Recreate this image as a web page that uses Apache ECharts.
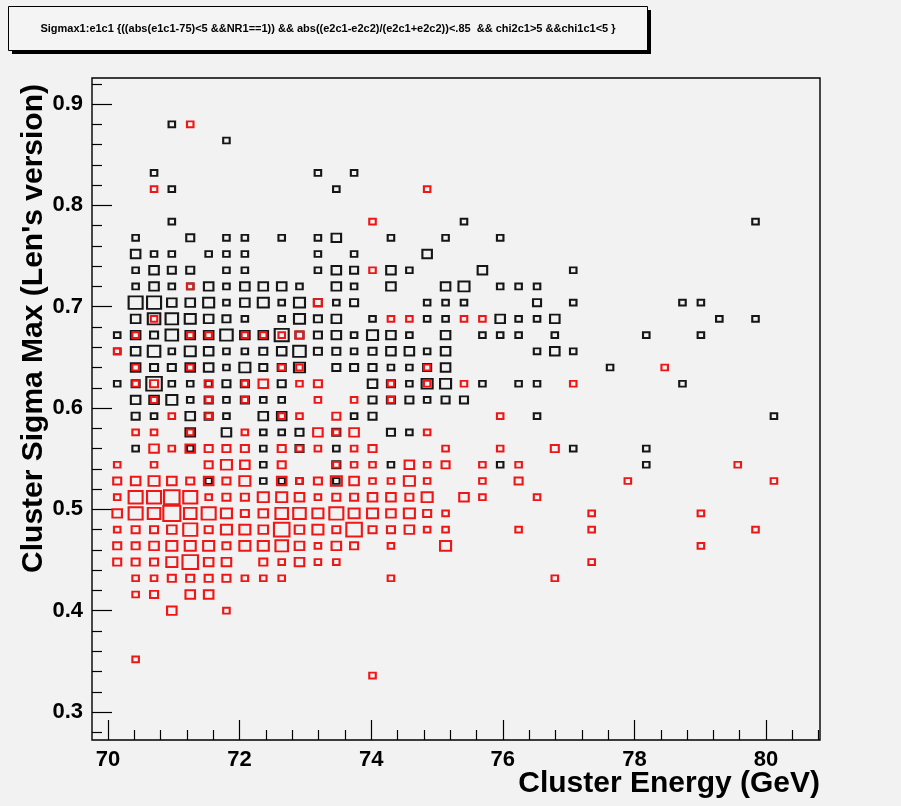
<!DOCTYPE html>
<html>
<head>
<meta charset="utf-8">
<script src="https://cdn.jsdelivr.net/npm/echarts@6/dist/echarts.min.js"></script>
<style>
  html, body { margin: 0; padding: 0; background: #f2f2f2; }
  #chart { width: 901px; height: 806px; }
</style>
</head>
<body>
<div id="chart"></div>
<script>
// Bin centres of the 2D histogram (Cluster Energy in GeV, Sigma Max)
const energyCenters = [70.14, 70.42, 70.70, 70.97, 71.25, 71.53, 71.80, 72.08, 72.36, 72.64,
  72.91, 73.19, 73.47, 73.74, 74.02, 74.30, 74.58, 74.85, 75.13, 75.41,
  75.69, 75.96, 76.24, 76.52, 76.79, 77.07, 77.35, 77.63, 77.90, 78.18,
  78.46, 78.73, 79.01, 79.29, 79.57, 79.84, 80.12];
const sigmaCenters = [0.880, 0.864, 0.848, 0.832, 0.816, 0.800, 0.784, 0.768, 0.752, 0.736,
  0.720, 0.704, 0.688, 0.672, 0.656, 0.640, 0.624, 0.608, 0.592, 0.576,
  0.560, 0.544, 0.528, 0.512, 0.496, 0.480, 0.464, 0.448, 0.432, 0.416,
  0.400, 0.384, 0.368, 0.352, 0.336];

// [energy bin, sigma bin, entries] -- black histogram
const blackCells = [
  [3,0,1],[6,1,1],[2,3,1],[11,3,1],[13,3,1],[3,4,1],[12,4,1],[3,6,1],[19,6,1],[35,6,1],
  [1,7,1],[4,7,2],[6,7,1],[7,7,1],[9,7,1],[11,7,1],[12,7,3],[15,7,1],[18,7,1],[21,7,1],
  [1,8,3],[2,8,1],[3,8,1],[5,8,1],[6,8,1],[7,8,1],[11,8,1],[13,8,1],[17,8,3],
  [1,9,1],[2,9,3],[3,9,2],[4,9,2],[6,9,1],[7,9,1],[11,9,1],[12,9,3],[13,9,2],[15,9,3],[16,9,1],[20,9,3],[25,9,1],
  [1,10,1],[2,10,3],[3,10,1],[4,10,1],[5,10,3],[6,10,1],[7,10,3],[8,10,3],[9,10,3],[10,10,1],[12,10,3],[13,10,1],[15,10,3],[18,10,3],[19,10,4],[21,10,1],[22,10,1],[23,10,1],
  [1,11,6],[2,11,6],[3,11,3],[4,11,3],[5,11,4],[6,11,1],[7,11,3],[8,11,4],[9,11,1],[10,11,4],[11,11,2],[12,11,1],[13,11,2],[17,11,1],[18,11,1],[19,11,1],[23,11,2],[25,11,1],[31,11,1],[32,11,1],
  [1,12,3],[2,12,5],[3,12,5],[4,12,4],[5,12,3],[6,12,2],[7,12,1],[9,12,1],[10,12,4],[11,12,2],[12,12,3],[14,12,1],[17,12,1],[18,12,1],[21,12,3],[22,12,1],[23,12,1],[24,12,3],[33,12,1],[35,12,1],
  [0,13,1],[1,13,3],[2,13,2],[3,13,5],[4,13,3],[5,13,3],[6,13,5],[7,13,3],[8,13,3],[9,13,6],[10,13,2],[11,13,2],[12,13,3],[13,13,1],[14,13,4],[15,13,3],[16,13,1],[18,13,3],[20,13,1],[21,13,1],[22,13,1],[24,13,1],[29,13,1],[32,13,1],
  [0,14,1],[1,14,3],[2,14,5],[3,14,1],[4,14,4],[5,14,3],[6,14,1],[7,14,1],[8,14,2],[9,14,3],[10,14,5],[11,14,2],[12,14,2],[13,14,1],[14,14,2],[15,14,3],[16,14,3],[17,14,1],[18,14,3],[23,14,1],[24,14,3],[25,14,1],
  [1,15,3],[2,15,2],[3,15,2],[4,15,3],[5,15,3],[6,15,1],[7,15,4],[8,15,2],[9,15,2],[10,15,4],[12,15,2],[13,15,2],[14,15,2],[15,15,1],[16,15,1],[17,15,2],[18,15,3],[27,15,1],
  [0,16,1],[1,16,2],[2,16,7],[3,16,1],[4,16,1],[5,16,1],[6,16,2],[7,16,2],[9,16,2],[14,16,3],[15,16,2],[16,16,1],[17,16,4],[18,16,4],[20,16,1],[22,16,1],[23,16,1],[31,16,1],
  [1,17,3],[2,17,3],[3,17,4],[4,17,1],[5,17,2],[6,17,1],[7,17,2],[8,17,1],[9,17,1],[14,17,2],[15,17,2],[16,17,2],[17,17,1],[18,17,2],[19,17,2],
  [1,18,2],[2,18,1],[4,18,3],[5,18,2],[6,18,1],[8,18,3],[9,18,3],[13,18,1],[14,18,2],[23,18,1],[36,18,1],
  [4,19,3],[6,19,3],[8,19,1],[9,19,1],[10,19,2],[12,19,2],[15,19,2],[16,19,1],
  [1,20,1],[4,20,1],[8,20,1],[10,20,2],[12,20,1],[25,20,1],[29,20,1],
  [8,21,1],[12,21,2],[15,21,1],[21,21,1],[29,21,1],
  [5,22,1],[8,22,1],[9,22,1],[10,22,1],[12,22,1]
];

// [energy bin, sigma bin, entries] -- red histogram (drawn with "same")
const redCells = [
  [4,0,1],[2,4,1],[17,4,1],[14,6,1],[14,9,1],[4,10,1],[11,11,2],
  [2,12,1],[15,12,1],[16,12,1],[19,12,1],[20,12,1],
  [1,13,1],[4,13,1],[5,13,1],[7,13,1],[8,13,1],[9,13,1],[10,13,2],
  [0,14,1],
  [1,15,1],[4,15,1],[9,15,1],[10,15,1],[17,15,1],[30,15,1],
  [1,16,1],[2,16,2],[5,16,2],[7,16,1],[8,16,3],[10,16,1],[11,16,2],[15,16,1],[17,16,1],[19,16,1],[25,16,1],
  [2,17,1],[5,17,1],[7,17,1],[11,17,1],[13,17,1],[15,17,1],
  [3,18,1],[5,18,1],[9,18,1],[10,18,1],[12,18,2],[21,18,1],
  [1,19,1],[2,19,1],[4,19,1],[7,19,1],[11,19,3],[12,19,1],[13,19,3],[17,19,1],
  [2,20,3],[3,20,1],[4,20,3],[5,20,2],[6,20,2],[7,20,2],[9,20,2],[10,20,1],[11,20,1],[13,20,1],[14,20,2],[18,20,1],[21,20,1],[24,20,2],
  [0,21,1],[2,21,1],[5,21,2],[6,21,4],[7,21,3],[9,21,2],[12,21,1],[13,21,1],[14,21,1],[16,21,3],[17,21,1],[18,21,2],[20,21,1],[22,21,1],[34,21,1],
  [0,22,2],[1,22,3],[2,22,4],[3,22,3],[4,22,2],[5,22,3],[6,22,2],[7,22,4],[9,22,3],[10,22,1],[11,22,2],[12,22,4],[13,22,3],[14,22,1],[15,22,1],[16,22,4],[17,22,1],[20,22,1],[22,22,2],[28,22,1],[36,22,1],
  [0,23,1],[1,23,6],[2,23,6],[3,23,7],[4,23,6],[5,23,1],[6,23,2],[7,23,2],[8,23,4],[9,23,4],[10,23,3],[11,23,1],[12,23,2],[13,23,2],[14,23,3],[15,23,3],[16,23,2],[17,23,4],[19,23,3],[20,23,1],[23,23,1],
  [0,24,3],[1,24,6],[2,24,5],[3,24,8],[4,24,5],[5,24,6],[6,24,4],[7,24,2],[8,24,3],[9,24,5],[10,24,5],[11,24,4],[12,24,6],[13,24,4],[14,24,4],[15,24,3],[16,24,4],[17,24,2],[18,24,1],[26,24,1],[32,24,1],
  [0,25,1],[1,25,2],[2,25,2],[3,25,3],[4,25,6],[5,25,2],[6,25,4],[7,25,4],[8,25,3],[9,25,7],[10,25,3],[11,25,4],[12,25,2],[13,25,7],[14,25,2],[15,25,2],[16,25,3],[17,25,1],[18,25,1],[22,25,1],[26,25,1],[35,25,1],
  [0,26,2],[1,26,2],[2,26,3],[3,26,4],[4,26,4],[5,26,4],[6,26,2],[7,26,4],[8,26,4],[9,26,5],[10,26,3],[11,26,1],[12,26,3],[13,26,2],[15,26,1],[18,26,4],[32,26,1],
  [0,27,2],[1,27,2],[2,27,2],[3,27,4],[4,27,7],[5,27,3],[6,27,3],[8,27,2],[9,27,1],[10,27,3],[11,27,1],[12,27,1],[26,27,1],
  [1,28,1],[2,28,1],[3,28,2],[4,28,2],[5,28,2],[6,28,2],[7,28,1],[8,28,1],[9,28,1],[15,28,1],[24,28,1],
  [1,29,1],[2,29,2],[4,29,3],[5,29,3],
  [3,30,3],[6,30,1],
  [1,33,1],
  [14,34,1]
];

// Axis ticks and labels
const energyLabels = [70, 72, 74, 76, 78, 80];
const energyMinorTicks = [70.4, 70.8, 71.2, 71.6, 72.4, 72.8, 73.2, 73.6, 74.4, 74.8, 75.2, 75.6,
  76.4, 76.8, 77.2, 77.6, 78.4, 78.8, 79.2, 79.6, 80.4, 80.8];
const sigmaLabels = [0.3, 0.4, 0.5, 0.6, 0.7, 0.8, 0.9];
const sigmaMinorTicks = [0.28, 0.32, 0.34, 0.36, 0.38, 0.42, 0.44, 0.46, 0.48, 0.52, 0.54, 0.56, 0.58,
  0.62, 0.64, 0.66, 0.68, 0.72, 0.74, 0.76, 0.78, 0.82, 0.84, 0.86, 0.88, 0.92];

const titleText = 'Sigmax1:e1c1 {((abs(e1c1-75)<5 &&NR1==1)) && abs((e2c1-e2c2)/(e2c1+e2c2))<.85  && chi2c1>5 &&chi1c1<5 }';
const xTitle = 'Cluster Energy (GeV)';
const yTitle = "Cluster Sigma Max (Len's version)";

const X_MIN = 69.757, X_MAX = 80.82;
const Y_MIN = 0.2724, Y_MAX = 0.9257;

const FONT = '"Liberation Sans", Arial, Helvetica, sans-serif';
const STROKE = 2;

// box side grows with the number of entries in the cell
function boxSize(n) {
  const outer = 7 + 1.5 * n;
  const w = outer - STROKE;
  return [w, w * 0.89];
}

function toPoints(cells) {
  return cells.map(([i, j, n]) => [energyCenters[i], sigmaCenters[j], n]);
}

const chart = echarts.init(document.getElementById('chart'), null, { renderer: 'canvas' });

const axisCommon = {
  type: 'value',
  splitLine: { show: false },
  axisLine: { show: false },
};

chart.setOption({
  animation: false,
  backgroundColor: '#f2f2f2',
  grid: {
    left: 92, top: 78, width: 728, height: 662,
    show: true, borderColor: '#000', borderWidth: 1.4, backgroundColor: 'transparent'
  },
  xAxis: [
    Object.assign({}, axisCommon, {
      min: X_MIN, max: X_MAX,
      axisTick: { show: true, inside: true, length: 20, customValues: energyLabels, lineStyle: { color: '#000', width: 1.2 } },
      axisLabel: { show: true, customValues: energyLabels, margin: 9, color: '#000', fontSize: 22, fontWeight: 'bold', fontFamily: FONT }
    }),
    Object.assign({}, axisCommon, {
      min: X_MIN, max: X_MAX, position: 'bottom',
      axisTick: { show: true, inside: true, length: 10, customValues: energyMinorTicks, lineStyle: { color: '#000', width: 1.2 } },
      axisLabel: { show: false }
    })
  ],
  yAxis: [
    Object.assign({}, axisCommon, {
      min: Y_MIN, max: Y_MAX,
      axisTick: { show: true, inside: true, length: 20, customValues: sigmaLabels, lineStyle: { color: '#000', width: 1.2 } },
      axisLabel: { show: true, customValues: sigmaLabels, margin: 9, color: '#000', fontSize: 22, fontWeight: 'bold', fontFamily: FONT,
        formatter: v => v.toFixed(1) }
    }),
    Object.assign({}, axisCommon, {
      min: Y_MIN, max: Y_MAX, position: 'left',
      axisTick: { show: true, inside: true, length: 10, customValues: sigmaMinorTicks, lineStyle: { color: '#000', width: 1.2 } },
      axisLabel: { show: false }
    })
  ],
  series: [
    {
      name: 'black', type: 'scatter', xAxisIndex: 0, yAxisIndex: 0,
      data: toPoints(blackCells),
      symbol: 'rect',
      symbolSize: v => boxSize(v[2]),
      itemStyle: { color: 'rgba(0,0,0,0)', borderColor: '#161616', borderWidth: STROKE, opacity: 1 },
      emphasis: { disabled: true },
      z: 2
    },
    {
      name: 'red', type: 'scatter', xAxisIndex: 0, yAxisIndex: 0,
      data: toPoints(redCells),
      symbol: 'rect',
      symbolSize: v => boxSize(v[2]),
      itemStyle: { color: 'rgba(0,0,0,0)', borderColor: '#f01616', borderWidth: STROKE, opacity: 1 },
      emphasis: { disabled: true },
      z: 3
    }
  ],
  graphic: [
    // pave with drop shadow holding the draw expression
    { type: 'rect', shape: { x: 12, y: 10, width: 639, height: 44 }, style: { fill: '#000' }, z: 10 },
    { type: 'rect', shape: { x: 8.5, y: 6.5, width: 639, height: 44 }, style: { fill: '#f4f4f4', stroke: '#000', lineWidth: 1 }, z: 11 },
    { type: 'text', x: 328, y: 28.5, z: 12,
      style: { text: titleText, fill: '#000', font: 'bold 11px ' + FONT, align: 'center', verticalAlign: 'middle' } },
    { type: 'text', x: 820, y: 784, z: 12,
      style: { text: xTitle, fill: '#000', font: 'bold 30px ' + FONT, align: 'right', verticalAlign: 'middle' } },
    { type: 'text', x: 34, y: 84, rotation: Math.PI / 2, z: 12,
      style: { text: yTitle, fill: '#000', font: 'bold 30px ' + FONT, align: 'right', verticalAlign: 'middle' } }
  ]
});
</script>
</body>
</html>
